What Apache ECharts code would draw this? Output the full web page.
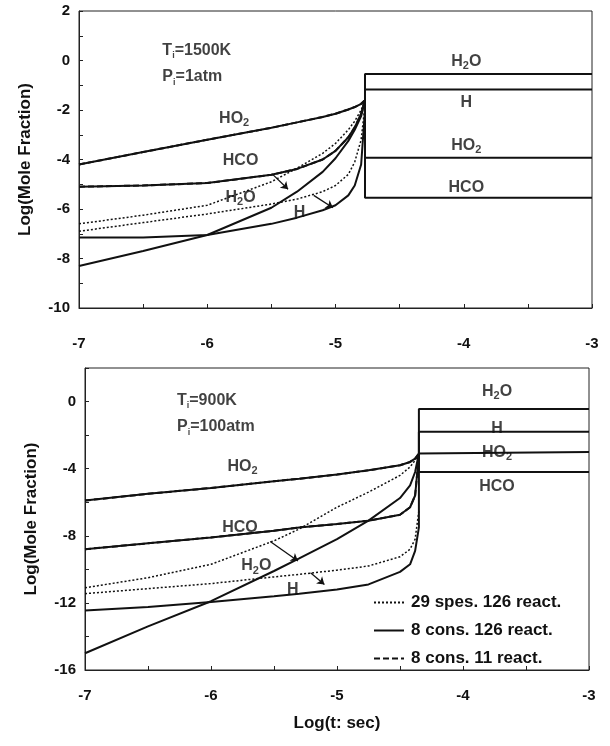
<!DOCTYPE html>
<html>
<head>
<meta charset="utf-8">
<script src="https://cdn.jsdelivr.net/npm/echarts@6/dist/echarts.min.js"></script>
<style>
  html,body{margin:0;padding:0;background:#fff;}
  #chart{width:610px;height:746px;}
</style>
</head>
<body>
<div id="chart"></div>
<script>
// ---- top panel: Ti=1500K, Pi=1atm ----
const topTime = [-7, -6.5, -6, -5.5, -5.3, -5.1, -5, -4.9, -4.85, -4.8, -4.77]
const topHO2  = [-4.2, -3.7, -3.2, -2.72, -2.5, -2.28, -2.15, -1.98, -1.88, -1.75, -1.6]
const topHCO  = [-5.1, -5.05, -4.95, -4.62, -4.38, -4.0, -3.65, -3.1, -2.7, -2.15, -1.6]
const topH2O  = [-8.3, -7.7, -7.05, -5.95, -5.3, -4.5, -3.95, -3.25, -2.8, -2.25, -1.6]
const topH    = [-7.15, -7.15, -7.05, -6.6, -6.35, -6.05, -5.85, -5.45, -5.05, -4.2, -2.0]
const topH2Odot = [-6.6, -6.25, -5.85, -4.9, -4.35, -3.75, -3.35, -2.8, -2.45, -2.0, -1.6]
const topHdot   = [-6.9, -6.55, -6.2, -5.8, -5.6, -5.3, -5.05, -4.6, -4.1, -3.2, -1.8]
// levels after ignition (H2O, H, HO2, HCO)
const topLevels = [-0.55, -1.17, -3.93, -5.55]

// ---- bottom panel: Ti=900K, Pi=100atm ----
const botTime = [-7, -6.5, -6, -5.5, -5.3, -5, -4.75, -4.5, -4.42, -4.38, -4.35]
const botHO2  = [-5.9, -5.5, -5.15, -4.75, -4.6, -4.35, -4.1, -3.8, -3.6, -3.4, -3.1]
const botHCO  = [-8.8, -8.45, -8.1, -7.7, -7.5, -7.3, -7.1, -6.75, -6.3, -5.6, -3.2]
const botH2O  = [-15.0, -13.4, -11.9, -10.1, -9.35, -8.2, -7.1, -5.75, -5.0, -4.2, -3.1]
const botH    = [-12.45, -12.25, -11.95, -11.6, -11.45, -11.2, -10.9, -10.15, -9.7, -8.9, -7.5]
const botH2Odot = [-11.1, -10.5, -9.7, -8.3, -7.6, -6.3, -5.4, -4.4, -3.9, -3.5, -3.1]
const botHdot   = [-11.45, -11.15, -10.85, -10.45, -10.3, -10.05, -9.8, -9.25, -8.8, -8.2, -6.5]
const botLevels = [-0.45, -1.8, -3.0, -4.2]

const tEnd = -3

// species names  [x, y, text]
const topNames = [
  [-5.79, -2.35, 'HO{s|2}'], [-5.74, -4.05, 'HCO'], [-5.74, -5.55, 'H{s|2}O'], [-5.28, -6.15, 'H'],
  [-3.98, -0.05, 'H{s|2}O'], [-3.98, -1.72, 'H'], [-3.98, -3.45, 'HO{s|2}'], [-3.98, -5.15, 'HCO']
]
const botNames = [
  [-5.75, -3.85, 'HO{s|2}'], [-5.77, -7.5, 'HCO'], [-5.64, -9.8, 'H{s|2}O'], [-5.35, -11.2, 'H'],
  [-3.73, 0.6, 'H{s|2}O'], [-3.73, -1.6, 'H'], [-3.73, -3.05, 'HO{s|2}'], [-3.73, -5.05, 'HCO']
]
const topCond = [[-6.35, 0.42, 'T{i|i}=1500K'], [-6.35, -0.67, 'P{i|i}=1atm']]
const botCond = [[-6.27, 0.08, 'T{i|i}=900K'], [-6.27, -1.5, 'P{i|i}=100atm']]

const topArrows = [[[-5.49, -4.6], [-5.37, -5.2]], [[-5.17, -5.45], [-5.02, -5.95]]]
const botArrows = [[[-5.53, -8.34], [-5.31, -9.5]], [[-5.21, -10.2], [-5.1, -10.9]]]

const legendNames = ['29 spes. 126 react.', '8 cons. 126 react.', '8 cons. 11 react.']

const FONT = 'Liberation Sans'

function pts(xs, ys){ return xs.map((x,i)=>[x, ys[i]]) }
function jump(xs, ys, level){
  let jx = xs[xs.length-1]
  return pts(xs, ys).concat([[jx, level], [tEnd, level]])
}

function lineSeries(name, data, idx, kind){
  let style = {color:'#111', width:2, type:'solid'}
  if(kind=='dot') style = {color:'#111', width:1.5, type:[2,2]}
  if(kind=='dash') style = {color:'#111', width:2, type:[6,3]}
  return {
    name: name, type:'line', xAxisIndex:idx, yAxisIndex:idx,
    data: data, showSymbol:false, symbol:'none', smooth:false,
    lineStyle: style, itemStyle:{color:'#111'}, z:3, silent:true
  }
}

const rich = {
  s:{fontSize:11, fontWeight:'bold', fontFamily:FONT, color:'#111', lineHeight:10, verticalAlign:'bottom'},
  i:{fontSize:9, fontWeight:'bold', fontFamily:FONT, color:'#111', lineHeight:10, verticalAlign:'bottom'}
}

function textSeries(list, idx, align){
  return {
    type:'scatter', xAxisIndex:idx, yAxisIndex:idx, symbolSize:0, silent:true, z:5,
    data: list.map(d=>({value:[d[0], d[1]], name:d[2]})),
    label:{
      show:true, position: align=='left' ? 'right' : 'inside', distance:0,
      formatter:'{b}', color:'#111', fontSize:16, fontWeight:'bold', fontFamily:FONT,
      lineHeight:20, verticalAlign:'middle', rich: rich
    }
  }
}

function arrowSeries(list, idx){
  return {
    type:'lines', coordinateSystem:'cartesian2d', xAxisIndex:idx, yAxisIndex:idx,
    data: list.map(a=>({coords:a})), symbol:['none','arrow'], symbolSize:7,
    lineStyle:{color:'#111', width:1.3, opacity:1}, silent:true, z:4
  }
}

function panelSeries(idx, t, ho2, hco, h2o, h, h2odot, hdot, lv){
  return [
    lineSeries(legendNames[1], jump(t, h2o, lv[0]), idx),
    lineSeries(legendNames[1], jump(t, h, lv[1]), idx),
    lineSeries(legendNames[1], jump(t, ho2, lv[2]), idx),
    lineSeries(legendNames[1], jump(t, hco, lv[3]), idx),
    lineSeries(legendNames[2], pts(t, ho2), idx, 'dash'),
    lineSeries(legendNames[2], pts(t, hco), idx, 'dash'),
    lineSeries(legendNames[0], pts(t, h2odot), idx, 'dot'),
    lineSeries(legendNames[0], pts(t, hdot), idx, 'dot')
  ]
}

const axisText = {color:'#111', fontSize:15, fontWeight:'bold', fontFamily:FONT}
const nameText = {color:'#111', fontSize:17, fontWeight:'bold', fontFamily:FONT}
function xAxis(idx, margin, withName){
  let ax = {
    type:'value', gridIndex:idx, min:-7, max:-3, interval:1,
    axisLine:{show:true, onZero:false, lineStyle:{color:'#222', width:1}},
    axisTick:{show:true, inside:true, length:4, lineStyle:{color:'#222'}},
    minorTick:{show:true, splitNumber:2, length:4, lineStyle:{color:'#222'}},
    splitLine:{show:false},
    axisLabel:Object.assign({margin:margin}, axisText)
  }
  if(withName){
    ax.name='Log(t: sec)'; ax.nameLocation='middle'; ax.nameGap=45
    ax.nameTextStyle=Object.assign({}, nameText)
  }
  return ax
}
function yAxis(idx, min, max, interval, hideMax){
  return {
    type:'value', gridIndex:idx, min:min, max:max, interval:interval,
    name:'Log(Mole Fraction)', nameLocation:'middle', nameGap:45,
    nameTextStyle:Object.assign({}, nameText),
    axisLine:{show:true, onZero:false, lineStyle:{color:'#222', width:1}},
    axisTick:{show:true, inside:true, length:4, lineStyle:{color:'#222'}},
    minorTick:{show:true, splitNumber:2, length:4, lineStyle:{color:'#222'}},
    splitLine:{show:false},
    axisLabel:Object.assign({margin:9, showMaxLabel:!hideMax}, axisText)
  }
}

var myChart = echarts.init(document.getElementById('chart'))
option = {
  backgroundColor:'#fff',
  animation:false,
  grid:[
    {left:79, right:18, top:11, height:297, show:true, borderColor:'#222', borderWidth:1},
    {left:85, right:21, top:368, height:302, show:true, borderColor:'#222', borderWidth:1}
  ],
  xAxis:[xAxis(0, 28, false), xAxis(1, 18, true)],
  yAxis:[yAxis(0, -10, 2, 2, false), yAxis(1, -16, 2, 4, true)],
  legend:{
    data: legendNames, orient:'vertical', left:368, top:589, itemGap:11,
    itemWidth:30, itemHeight:14, selectedMode:false,
    itemStyle:{opacity:0, borderWidth:0},
    textStyle:{color:'#111', fontSize:17, fontWeight:'bold', fontFamily:FONT, padding:[0,0,0,2]}
  },
  series: [].concat(
    panelSeries(0, topTime, topHO2, topHCO, topH2O, topH, topH2Odot, topHdot, topLevels),
    panelSeries(1, botTime, botHO2, botHCO, botH2O, botH, botH2Odot, botHdot, botLevels),
    [textSeries(topNames, 0), textSeries(botNames, 1),
     textSeries(topCond, 0, 'left'), textSeries(botCond, 1, 'left'),
     arrowSeries(topArrows, 0), arrowSeries(botArrows, 1)]
  )
}
myChart.setOption(option)
</script>
</body>
</html>
